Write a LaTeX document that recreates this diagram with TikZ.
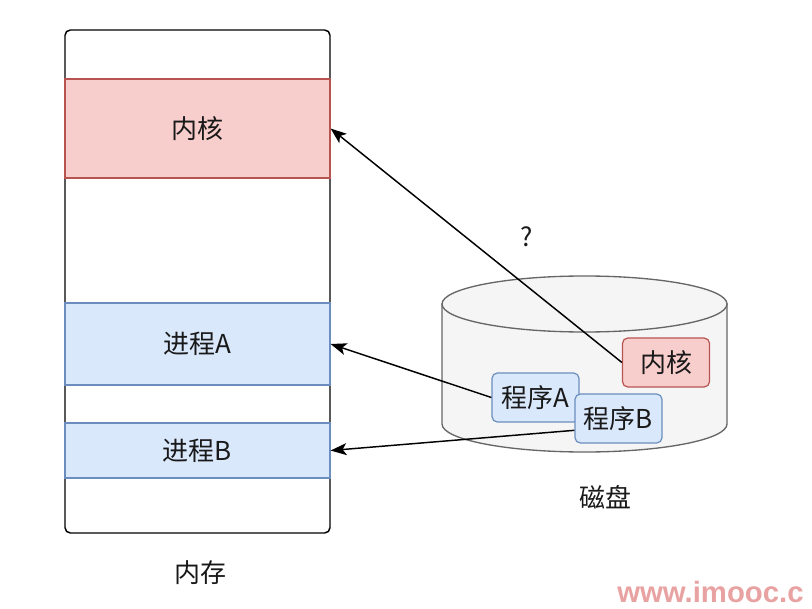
\documentclass[tikz,border=0pt]{standalone}
\usepackage{fontspec}
\setmainfont{Noto Sans CJK SC}
\newfontfamily\markfont{Liberation Sans}
\usepackage{tikz}
\usetikzlibrary{arrows.meta,positioning}
\definecolor{kernfill}{HTML}{F8CECC}
\definecolor{kerndraw}{HTML}{B85450}
\definecolor{procfill}{HTML}{DAE8FC}
\definecolor{procdraw}{HTML}{6C8EBF}
\definecolor{diskfill}{HTML}{F5F5F5}
\definecolor{diskdraw}{HTML}{666666}
\definecolor{markred}{HTML}{E9A2A2}
\tikzset{
  label/.style={
    font=\fontsize{19.5}{22}\selectfont,
    text=black!90,
    inner sep=0pt,
  },
  membox/.style={
    draw,
    rectangle,
    rounded corners=4pt,
    minimum width=198.75pt,
    minimum height=377.25pt,
    line width=1.1pt,
  },
  kernband/.style={
    label,
    draw=kerndraw,
    fill=kernfill,
    minimum width=198.75pt,
    line width=0.9pt,
  },
  procband/.style={
    label,
    draw=procdraw,
    fill=procfill,
    minimum width=198.75pt,
    line width=0.9pt,
  },
  diskitem/.style={
    label,
    rounded corners=4pt,
    minimum width=65.25pt,
    minimum height=36.75pt,
    line width=0.9pt,
  },
  diskbody/.style={draw=diskdraw, fill=diskfill, line width=1pt},
  load/.style={-{Stealth[length=12pt,width=9pt,inset=3pt]}, line width=1.1pt},
}
\begin{document}
\begin{tikzpicture}[x=0.75pt,y=-0.75pt]
  \useasboundingbox (0,0) rectangle (812,609);

  % memory
  \node[membox] (mem) at (197.5,281.5) {};
  \node[kernband, minimum height=74.25pt] (kern) at (197.5,128.5) {内核};
  \node[procband, minimum height=61.5pt] (procA) at (197.5,344) {进程A};
  \node[procband, minimum height=41.25pt] (procB) at (197.5,450.5) {进程B};
  \node[label] (memlabel) at (200,573) {内存};

  % disk
  \draw[diskbody] (442,304) -- (442,424)
    arc[start angle=180, end angle=360, x radius=106.875pt, y radius=21pt]
    -- (727,304) -- cycle;
  \draw[diskbody] (584.5,304) ellipse[x radius=106.875pt, y radius=21pt];
  \node[label] (disklabel) at (605,497) {磁盘};

  \node[diskitem, draw=kerndraw, fill=kernfill] (dkern) at (666,362.5) {内核};
  \node[diskitem, draw=procdraw, fill=procfill] (dprogA) at (535.5,397.5) {程序A};
  \node[diskitem, draw=procdraw, fill=procfill] (dprogB) at (618.5,418.5) {程序B};

  \draw[load] (dkern.west) -- (kern.east);
  \draw[load] (dprogA.west) -- (procA.east);
  \draw[load] (dprogB.195) -- (procB.east);
  \node[label] (ask) at (527,237) {?};

  \node[anchor=west, inner sep=0pt, text=markred,
        font=\markfont\bfseries\fontsize{22}{26}\selectfont] (mark) at (617,592) {www.imooc.c};
\end{tikzpicture}
\end{document}
